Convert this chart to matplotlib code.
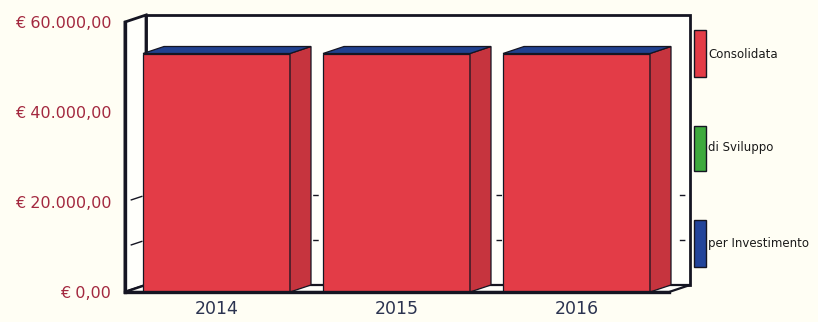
import matplotlib
matplotlib.use('Agg')
import matplotlib.pyplot as plt
from matplotlib.patches import Polygon, Rectangle

# Data
years = ['2014', '2015', '2016']
series_names = ['Consolidata', 'di Sviluppo', 'per Investimento']
consolidata = [53000, 53000, 53000]
sviluppo = [0, 0, 0]
investimento = [0, 0, 0]
y_ticks = [0, 20000, 40000, 60000]
grid_values = [10000, 20000]

# Colours
BG = '#FFFEF4'
WALL = '#FFFFFB'
EDGE = '#151522'
front_colors = ['#E33C47', '#3DAA3D', '#22449A']
side_colors = ['#C6343E', '#2F8F30', '#1B377E']
top_colors = ['#D03A44', '#37A037', '#21418F']
legend_colors = ['#E33C47', '#3DAA3D', '#22449A']

W, H = 818, 322
PX_X = 180.0            # pixels per category
PX_Y = 4.5 / 1000.0     # pixels per euro
DX = 21 / PX_X          # depth offset, data units
DY = 7 / PX_Y
BAR_W = 147 / PX_X
XMIN = (125 - 216.5) / PX_X
XMAX = (690 - 216.5) / PX_X
YTOP = 60000


def euro(v):
    s = f"{v:,.2f}"
    s = s.replace(',', 'X').replace('.', ',').replace('X', '.')
    return '€ ' + s


fig = plt.figure(figsize=(W / 100, H / 100), dpi=100, facecolor=BG)
ax = fig.add_axes([125 / W, 30 / H, 565 / W, 277 / H])
ax.set_facecolor(BG)
ax.set_xlim(XMIN, XMAX)
ax.set_ylim(0, YTOP + DY)
for sp in ax.spines.values():
    sp.set_visible(False)

# walls and floor
back = Polygon([(XMIN + DX, DY), (XMAX, DY), (XMAX, YTOP + DY), (XMIN + DX, YTOP + DY)],
               closed=True, fc=WALL, ec=EDGE, lw=2, zorder=1, clip_on=False)
left = Polygon([(XMIN, 0), (XMIN + DX, DY), (XMIN + DX, YTOP + DY), (XMIN, YTOP)],
               closed=True, fc=WALL, ec=EDGE, lw=2, zorder=1, clip_on=False)
floor = Polygon([(XMIN, 0), (XMAX - DX, 0), (XMAX, DY), (XMIN + DX, DY)],
                closed=True, fc=WALL, ec=EDGE, lw=1.6, zorder=1, clip_on=False)
for p in (back, left, floor):
    ax.add_patch(p)
ax.plot([XMIN, XMIN], [0, YTOP], color=EDGE, lw=2.4, zorder=6,
        solid_capstyle='projecting', clip_on=False)
ax.plot([XMIN, XMAX - DX], [0, 0], color=EDGE, lw=2.4, zorder=6,
        solid_capstyle='projecting', clip_on=False)

# dashed gridlines on walls
for g in grid_values:
    ax.plot([XMIN + DX, XMAX], [g + DY, g + DY], color=EDGE, lw=1, ls=(0, (4, 8)), zorder=2)
    ax.plot([XMIN + DX * 0.3, XMIN + DX * 0.8], [g + DY * 0.3, g + DY * 0.8],
            color=EDGE, lw=1, zorder=2)

# stacked 3D bars
stacks = [consolidata, sviluppo, investimento]
for i in range(len(years)):
    x0 = i - BAR_W / 2
    x1 = i + BAR_W / 2
    bottom = 0
    top_idx = 0
    for k, vals in enumerate(stacks):
        v = vals[i]
        if v > 0:
            t = bottom + v
            ax.add_patch(Rectangle((x0, bottom), BAR_W, v, fc=front_colors[k],
                                   ec=EDGE, lw=0.9, zorder=4))
            ax.add_patch(Polygon([(x1, bottom), (x1 + DX, bottom + DY), (x1 + DX, t + DY), (x1, t)],
                                 closed=True, fc=side_colors[k], ec=EDGE, lw=0.9, zorder=4))
            bottom = t
        top_idx = k
    t = bottom
    ax.add_patch(Polygon([(x0, t), (x1, t), (x1 + DX, t + DY), (x0 + DX, t + DY)],
                         closed=True, fc=top_colors[top_idx], ec=EDGE, lw=0.9, zorder=5))

# ticks
ax.set_yticks(y_ticks, labels=[euro(v) for v in y_ticks])
ax.set_xticks(range(len(years)), labels=years)
ax.tick_params(axis='y', length=0, pad=10, labelsize=11.5, labelcolor='#A3283F')
ax.tick_params(axis='x', length=0, pad=6, labelsize=12.5, labelcolor='#2B3350')

# legend
boxes = [(30, 77), (126, 171), (220, 267)]
label_y = [54, 148, 243]
for (ytop, ybot), col, name, ly in zip(boxes, legend_colors, series_names, label_y):
    fig.patches.append(Rectangle((694 / W, 1 - ybot / H), 12 / W, (ybot - ytop) / H,
                                 transform=fig.transFigure, fc=col, ec=EDGE, lw=1))
    fig.text(708 / W, 1 - ly / H, name, fontsize=8.5, color='#1A1A1A', va='center', ha='left')

fig.savefig('out.png', dpi=100, facecolor=BG)
